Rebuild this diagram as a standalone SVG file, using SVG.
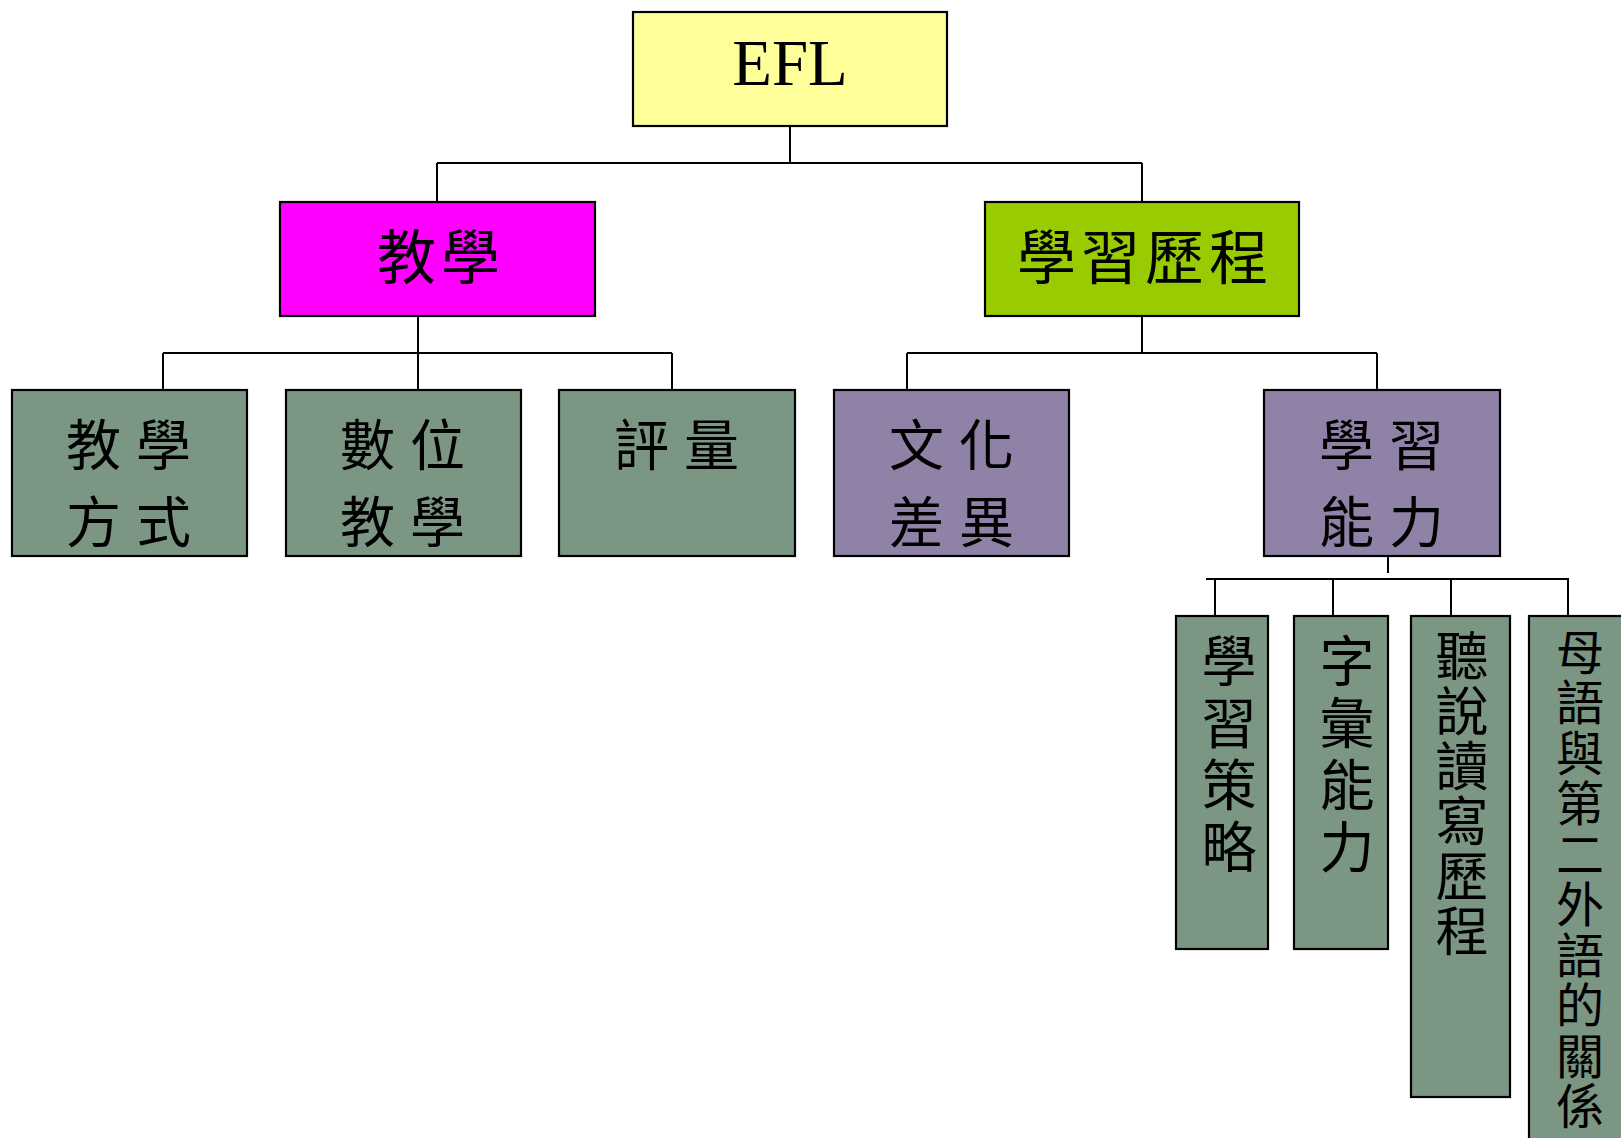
<svg xmlns="http://www.w3.org/2000/svg" width="1621" height="1138" viewBox="0 0 1621 1138">
<style>
.box{stroke:#000;stroke-width:2.2}
.yel{fill:#FFFF99}
.mag{fill:#FF00FF}
.lime{fill:#99CC00}
.grn{fill:#7B9683}
.pur{fill:#9081A7}
.cn{font-family:"Noto Sans CJK TC","Noto Sans CJK SC",sans-serif;fill:#000;dominant-baseline:central}
.l2{font-size:59px;letter-spacing:5px;text-anchor:middle}
.l3{font-size:55px;letter-spacing:15px;text-anchor:middle}
.v{text-anchor:middle}
.conn{stroke:#000;stroke-width:2;fill:none}
</style>
<rect width="1621" height="1138" fill="#fff"/>
<g id="connectors">
<path class="conn" d="M790 126V163M437 163H1142M437 163V202M1142 163V202"/>
<path class="conn" d="M418 316V353M163 353H672M163 353V390M418 353V390M672 353V390"/>
<path class="conn" d="M1142 316V353M907 353H1377M907 353V390M1377 353V390"/>
<path class="conn" d="M1388 556V573M1206 579H1569M1215 579V616M1333 579V616M1451 579V616M1568 579V616"/>
</g>
<g id="node-efl">
<rect class="box yel" x="633" y="12" width="314" height="114"/>
<text x="790" y="85" font-family="Liberation Serif,serif" font-size="65" text-anchor="middle">EFL</text>
</g>
<g id="node-teaching">
<rect class="box mag" x="280" y="202" width="315" height="114"/>
<text class="cn l2" x="441" y="253">教學</text>
</g>
<g id="node-learning-process">
<rect class="box lime" x="985" y="202" width="314" height="114"/>
<text class="cn l2" x="1145" y="253">學習歷程</text>
</g>
<g id="node-teaching-method">
<rect class="box grn" x="12" y="390" width="235" height="166"/>
<text class="cn l3" x="136" y="441">教學</text>
<text class="cn l3" x="136" y="518">方式</text>
</g>
<g id="node-digital-teaching">
<rect class="box grn" x="286" y="390" width="235" height="166"/>
<text class="cn l3" x="410" y="441">數位</text>
<text class="cn l3" x="410" y="518">教學</text>
</g>
<g id="node-assessment">
<rect class="box grn" x="559" y="390" width="236" height="166"/>
<text class="cn l3" x="684" y="441">評量</text>
</g>
<g id="node-culture">
<rect class="box pur" x="834" y="390" width="235" height="166"/>
<text class="cn l3" x="959" y="441">文化</text>
<text class="cn l3" x="959" y="518">差異</text>
</g>
<g id="node-learning-ability">
<rect class="box pur" x="1264" y="390" width="236" height="166"/>
<text class="cn l3" x="1389" y="441">學習</text>
<text class="cn l3" x="1389" y="518">能力</text>
</g>
<g id="node-strategy">
<rect class="box grn" x="1176" y="616" width="92" height="333"/>
<text class="cn v" font-size="55"><tspan x="1229" y="657">學</tspan><tspan x="1229" y="719">習</tspan><tspan x="1229" y="781">策</tspan><tspan x="1229" y="843">略</tspan></text>
</g>
<g id="node-vocabulary">
<rect class="box grn" x="1294" y="616" width="94" height="333"/>
<text class="cn v" font-size="55"><tspan x="1347" y="657">字</tspan><tspan x="1347" y="719">彙</tspan><tspan x="1347" y="781">能</tspan><tspan x="1347" y="843">力</tspan></text>
</g>
<g id="node-four-skills">
<rect class="box grn" x="1411" y="616" width="99" height="481"/>
<text class="cn v" font-size="53"><tspan x="1462" y="653">聽</tspan><tspan x="1462" y="708">說</tspan><tspan x="1462" y="763">讀</tspan><tspan x="1462" y="818">寫</tspan><tspan x="1462" y="873">歷</tspan><tspan x="1462" y="928">程</tspan></text>
</g>
<g id="node-native-language">
<rect class="box grn" x="1529" y="616" width="110" height="540"/>
<text class="cn v" font-size="48"><tspan x="1580" y="649">母</tspan><tspan x="1580" y="699">語</tspan><tspan x="1580" y="750">與</tspan><tspan x="1580" y="800">第</tspan><tspan x="1580" y="851">二</tspan><tspan x="1580" y="901">外</tspan><tspan x="1580" y="952">語</tspan><tspan x="1580" y="1002">的</tspan><tspan x="1580" y="1053">關</tspan><tspan x="1580" y="1103">係</tspan></text>
</g>
</svg>
